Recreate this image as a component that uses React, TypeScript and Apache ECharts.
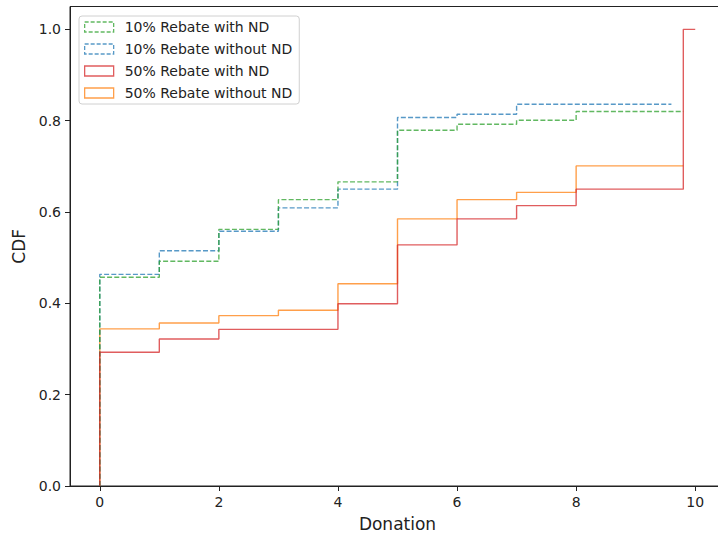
import React, { useEffect, useRef } from "react";
import * as echarts from "echarts";

const seriesNames = [
  "10% Rebate with ND",
  "10% Rebate without ND",
  "50% Rebate with ND",
  "50% Rebate without ND",
];

const greenEdges = [0, 1, 2, 3, 4, 5, 6, 7, 8, 9.8];
const greenValues = [0.457, 0.492, 0.562, 0.627, 0.666, 0.779, 0.792, 0.801, 0.82];

const blueEdges = [0, 1, 2, 3, 4, 5, 6, 7, 9.6];
const blueValues = [0.4635, 0.515, 0.558, 0.609, 0.65, 0.807, 0.814, 0.836];

const redEdges = [0, 1, 2, 3, 4, 5, 6, 7, 8, 9.8, 10];
const redValues = [0.293, 0.322, 0.343, 0.343, 0.399, 0.528, 0.585, 0.614, 0.65, 1.0];

const orangeEdges = [0, 1, 2, 3, 4, 5, 6, 7, 8, 9.8];
const orangeValues = [0.344, 0.357, 0.373, 0.385, 0.443, 0.585, 0.627, 0.643, 0.701];

const xTicks = [0, 2, 4, 6, 8, 10];
const yTicks = [0, 0.2, 0.4, 0.6, 0.8, 1.0];

const colors = {
  green: "rgba(44,160,44,0.75)",
  blue: "rgba(31,119,180,0.75)",
  red: "rgba(214,39,40,0.75)",
  orange: "rgba(255,127,14,0.75)",
};

function stepPoints(edges: number[], values: number[]) {
  const pts: number[][] = [[edges[0], 0]];
  for (let i = 0; i < values.length; i++) pts.push([edges[i], values[i]]);
  pts.push([edges[edges.length - 1], values[values.length - 1]]);
  return pts;
}

const FONT = "DejaVu Sans";

export default function App() {
  const ref = useRef<HTMLDivElement>(null);
  useEffect(() => {
    if (!ref.current) return;
    const chart = echarts.init(ref.current, undefined, { renderer: "svg" });
    const dash = [5, 2.2];
    const mk = (name: string, edges: number[], values: number[], color: string, dashed: boolean) => ({
      name,
      type: "line",
      step: "end",
      showSymbol: false,
      symbol: "none",
      data: stepPoints(edges, values),
      itemStyle: { color },
      lineStyle: { color, width: 1.4, type: dashed ? dash : "solid" },
      emphasis: { disabled: true },
    });
    const legendItem = (name: string, color: string, dashed: boolean) => ({
      name,
      icon: "rect",
      itemStyle: {
        color: "rgba(0,0,0,0)",
        borderColor: color,
        borderWidth: 1.3,
        borderType: dashed ? [4, 2] : "solid",
      },
    });
    chart.setOption({
      animation: false,
      backgroundColor: "#ffffff",
      grid: {
        left: 70,
        right: 5,
        top: 6.5,
        bottom: 51,
        show: true,
        borderColor: "#222",
        borderWidth: 1,
        backgroundColor: "transparent",
      },
      legend: {
        orient: "vertical",
        left: 79,
        top: 16,
        data: [
          legendItem(seriesNames[0], colors.green, true),
          legendItem(seriesNames[1], colors.blue, true),
          legendItem(seriesNames[2], colors.red, false),
          legendItem(seriesNames[3], colors.orange, false),
        ],
        itemWidth: 29,
        itemHeight: 10,
        itemGap: 8,
        padding: [4, 7, 4, 5],
        backgroundColor: "rgba(255,255,255,0.8)",
        borderColor: "#d0d0d0",
        borderWidth: 1,
        borderRadius: 3,
        selectedMode: false,
        textStyle: {
          fontFamily: FONT,
          fontSize: 14,
          color: "#222",
          lineHeight: 14,
          padding: [0, 0, 0, 6],
        },
      },
      xAxis: {
        type: "value",
        min: -0.5,
        max: 10.5,
        name: "Donation",
        nameLocation: "middle",
        nameGap: 29,
        nameTextStyle: { fontFamily: FONT, fontSize: 17, color: "#222" },
        axisLine: { show: true, onZero: false, lineStyle: { color: "#222", width: 1 } },
        axisTick: { show: true, length: 5, customValues: xTicks, lineStyle: { color: "#222" } },
        axisLabel: {
          customValues: xTicks,
          margin: 9,
          fontFamily: FONT,
          fontSize: 14,
          color: "#222",
          formatter: (v: number) => String(v),
        },
        splitLine: { show: false },
      },
      yAxis: {
        type: "value",
        min: 0,
        max: 1.05,
        name: "CDF",
        nameLocation: "middle",
        nameGap: 40,
        nameTextStyle: { fontFamily: FONT, fontSize: 17, color: "#222" },
        axisLine: { show: true, onZero: false, lineStyle: { color: "#222", width: 1 } },
        axisTick: { show: true, length: 5, customValues: yTicks, lineStyle: { color: "#222" } },
        axisLabel: {
          customValues: yTicks,
          margin: 9,
          fontFamily: FONT,
          fontSize: 14,
          color: "#222",
          formatter: (v: number) => v.toFixed(1),
        },
        splitLine: { show: false },
      },
      series: [
        mk(seriesNames[3], orangeEdges, orangeValues, colors.orange, false),
        mk(seriesNames[1], blueEdges, blueValues, colors.blue, true),
        mk(seriesNames[0], greenEdges, greenValues, colors.green, true),
        mk(seriesNames[2], redEdges, redValues, colors.red, false),
      ],
    });
    return () => chart.dispose();
  }, []);
  return (
    <div style={{ position: "absolute", left: 0, top: 0, width: 718, height: 537, overflow: "hidden" }}>
      <div ref={ref} style={{ width: 730, height: 537 }} />
    </div>
  );
}
